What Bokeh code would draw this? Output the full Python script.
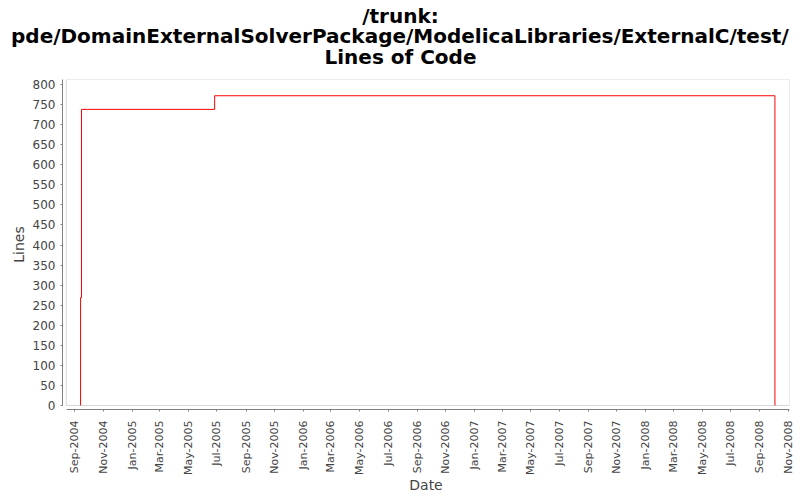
import math
import pandas as pd
from bokeh.plotting import figure
from bokeh.models import (ColumnDataSource, FixedTicker, DatetimeTickFormatter,
                          Range1d, BoxAnnotation, Title)
from bokeh.embed import file_html
from bokeh.resources import INLINE

# ---- data ----
title_lines = ["/trunk:",
               "pde/DomainExternalSolverPackage/ModelicaLibraries/ExternalC/test/",
               "Lines of Code"]
commit_dates = ["2004-09-13", "2004-09-13", "2004-09-15", "2005-06-26", "2008-10-03"]
lines_of_code = [0, 269, 738, 772, 0]
x_tick_dates = ["2004-09-01", "2004-11-01", "2005-01-01", "2005-03-01", "2005-05-01",
                "2005-07-01", "2005-09-01", "2005-11-01", "2006-01-01", "2006-03-01",
                "2006-05-01", "2006-07-01", "2006-09-01", "2006-11-01", "2007-01-01",
                "2007-03-01", "2007-05-01", "2007-07-01", "2007-09-01", "2007-11-01",
                "2008-01-01", "2008-03-01", "2008-05-01", "2008-07-01", "2008-09-01",
                "2008-11-01"]
y_ticks = [0, 50, 100, 150, 200, 250, 300, 350, 400, 450, 500, 550, 600, 650, 700, 750, 800]

# ---- layout constants ----
x_start = pd.Timestamp("2004-08-05 12:00")
x_inner = pd.Timestamp("2004-08-13 10:00")
x_end = pd.Timestamp("2008-11-03 02:00")
y_start = -10          # 4px gap under the plot box
y_box_top = 812.5      # top of the plot box / frame

# title: font size, left offsets (from frame left) that centre each line on the page,
# and standoffs that tighten the line pitch
title_size = 20
title_offsets = [299.75, -51.5, 262.0]
title_standoffs = [0, -11, 1]
spacer_standoff = -16   # blank gap between the title block and the plot


def ms(ts):
    return pd.Timestamp(ts).value / 1e6


src = ColumnDataSource(dict(date=pd.to_datetime(commit_dates), loc=lines_of_code))

p = figure(width=800, height=500, output_backend="svg", toolbar_location=None,
           x_axis_type="datetime", title=None,
           x_range=Range1d(ms(x_start), ms(x_end)), y_range=Range1d(y_start, y_box_top),
           min_border_left=62, min_border_right=11, min_border_top=79, min_border_bottom=91)
p.outline_line_color = None
p.background_fill_color = "white"
p.border_fill_color = "white"
p.grid.visible = False

p.step("date", "loc", source=src, mode="after", line_color="#ff0000", line_width=1)

p.add_layout(BoxAnnotation(left=ms(x_inner), right=ms(x_end), bottom=0, top=y_box_top,
                           fill_alpha=0, line_color="#808080", line_width=1))

grey = "#808080"
txt = "#444444"
for ax in (p.xaxis[0], p.yaxis[0]):
    ax.axis_line_color = grey
    ax.major_tick_line_color = grey
    ax.minor_tick_line_color = None
    ax.major_tick_in = 0
    ax.major_tick_out = 2
    ax.major_label_text_color = txt
    ax.major_label_text_font = "DejaVu Sans"
    ax.axis_label_text_font = "DejaVu Sans"
    ax.axis_label_text_font_style = "normal"
    ax.axis_label_text_color = txt
    ax.axis_label_text_font_size = "14px"

xa = p.xaxis[0]
xa.ticker = FixedTicker(ticks=[ms(d) for d in x_tick_dates])
fmt = "%b-%Y"
xa.formatter = DatetimeTickFormatter(days=fmt, months=fmt, years=fmt, hours=fmt)
xa.major_label_orientation = math.pi / 2
xa.major_label_text_font_size = "11px"
xa.major_label_standoff = 9
xa.axis_label = "Date"
xa.axis_label_standoff = -1
xa.bounds = (ms(x_inner), ms(x_end))

ya = p.yaxis[0]
ya.ticker = FixedTicker(ticks=y_ticks)
ya.major_label_text_font_size = "12px"
ya.major_label_standoff = 5
ya.axis_label = "Lines"
ya.axis_label_standoff = 3
ya.bounds = (0, y_box_top)

# blank spacer right above the frame, so the title block sits at the page top
p.add_layout(Title(text=" ", standoff=spacer_standoff, text_font="DejaVu Sans",
                   text_font_size=f"{title_size}px"), "above")

# add bottom line first: later "above" items stack farther from the frame
for t, off, so in reversed(list(zip(title_lines, title_offsets, title_standoffs))):
    p.add_layout(Title(text=t, align="left", offset=off, standoff=so,
                       vertical_align="bottom",
                       text_font="DejaVu Sans", text_font_style="bold",
                       text_font_size=f"{title_size}px", text_color="black"), "above")

open("out.html", "w").write(file_html(p, INLINE))
